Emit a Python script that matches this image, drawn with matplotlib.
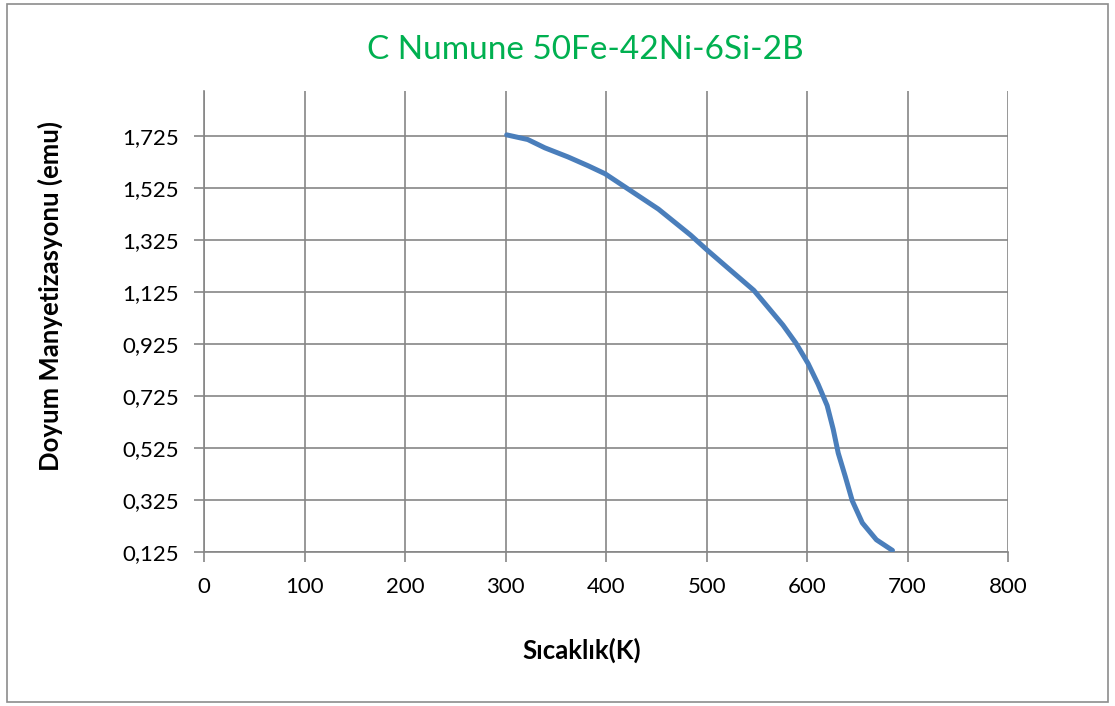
import matplotlib.pyplot as plt
from matplotlib.patches import Rectangle

# values
temperature = [301, 322, 339, 362, 382, 399, 422, 452, 484, 500, 520, 547,
               576, 589, 601, 611, 620, 626, 631, 638, 645, 655, 669, 685]
magnetization = [1.731, 1.713, 1.681, 1.646, 1.612, 1.581, 1.522, 1.445,
                 1.345, 1.289, 1.222, 1.132, 0.998, 0.928, 0.850, 0.770,
                 0.688, 0.597, 0.505, 0.415, 0.321, 0.236, 0.171, 0.130]
x_ticks = [0, 100, 200, 300, 400, 500, 600, 700, 800]
y_ticks = [0.125, 0.325, 0.525, 0.725, 0.925, 1.125, 1.325, 1.525, 1.725]

title = "C Numune 50Fe-42Ni-6Si-2B"
x_label = "Sıcaklık(K)"
y_label = "Doyum Manyetizasyonu (emu)"

plt.rcParams["font.family"] = ["Lato", "DejaVu Sans"]
grid_color = "#868686"

fig = plt.figure(figsize=(11.15, 7.06), dpi=100)
fig.patches.append(Rectangle((7 / 1115, 4 / 706), 1101 / 1115, 698 / 706,
                             transform=fig.transFigure, fill=False,
                             edgecolor="#8c8c8c", linewidth=1.2))

ax = fig.add_axes([204.3 / 1115, 1 - 551.7 / 706, 803.7 / 1115, 460.7 / 706])
ax.plot(temperature, magnetization, color="#4a7ebb", linewidth=3.6,
        solid_capstyle="round", solid_joinstyle="round", zorder=3)

ax.set_xlim(0, 800)
ax.set_ylim(0.125, 1.9)
ax.set_xticks(x_ticks)
ax.set_yticks(y_ticks)
ax.set_yticklabels([f"{v:.3f}".replace(".", ",") for v in y_ticks])
ax.grid(True, color=grid_color, linewidth=1.2)
ax.set_axisbelow(True)

for side in ["top", "right"]:
    ax.spines[side].set_visible(False)
for side in ["left", "bottom"]:
    ax.spines[side].set_color(grid_color)
    ax.spines[side].set_linewidth(1.2)

ax.tick_params(direction="out", length=7, width=1.2, color=grid_color,
               labelsize=16, pad=11)

fig.text(585 / 1115, 1 - 50 / 706, title, color="#00b050", fontsize=24,
         ha="center", va="center")
fig.text(582 / 1115, 1 - 650 / 706, x_label, fontsize=18.5, fontweight="bold",
         ha="center", va="center")
fig.text(50 / 1115, 1 - 296 / 706, y_label, fontsize=18.5, fontweight="bold",
         rotation=90, ha="center", va="center")

fig.savefig("out.png", dpi=100)
